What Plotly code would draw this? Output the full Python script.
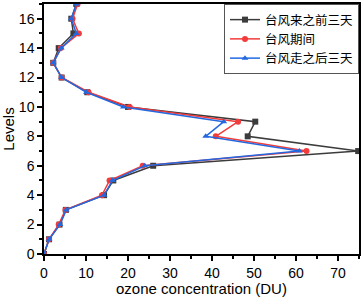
import plotly.graph_objects as go

levels = list(range(0, 18))
before = [0, 1.2, 3.7, 5.2, 14.3, 16.5, 26.0, 74.8, 48.5, 50.3, 20.0, 10.3, 4.2, 2.2, 3.5, 7.0, 6.5, 7.7]
during = [0, 1.2, 3.5, 5.1, 13.8, 15.6, 23.5, 62.5, 40.9, 46.2, 20.4, 10.6, 4.2, 2.2, 4.0, 8.3, 6.8, 8.0]
after = [0, 1.2, 3.8, 5.3, 14.3, 16.3, 24.0, 60.8, 38.5, 42.8, 18.9, 10.1, 4.2, 2.2, 4.1, 7.7, 6.5, 7.7]
names = ["台风来之前三天", "台风期间", "台风走之后三天"]
colors = ["#3c3c3c", "#f23b3b", "#2468e0"]
symbols = ["square", "circle", "triangle-up"]

fig = go.Figure()
for vals, nm, c, s in zip([before, during, after], names, colors, symbols):
    fig.add_trace(go.Scatter(x=vals, y=levels, mode="lines+markers", name=nm,
                             line=dict(color=c, width=1.5),
                             marker=dict(symbol=s, size=6, color=c), cliponaxis=True))

axis_common = dict(showline=True, linecolor="black", linewidth=1.5, mirror=True,
                   ticks="outside", ticklen=5, tickwidth=1.5, tickcolor="black",
                   showgrid=False, zeroline=False,
                   tickfont=dict(family="Liberation Sans, Arial", size=14, color="black"))
fig.update_xaxes(range=[0, 75], dtick=10, tick0=0,
                 minor=dict(ticks="outside", ticklen=3, dtick=5, tickwidth=1.5, tickcolor="black"),
                 title=dict(text="ozone concentration (DU)", standoff=4,
                            font=dict(family="Liberation Sans, Arial", size=15, color="black")),
                 **axis_common)
fig.update_yaxes(range=[0, 17], dtick=2, tick0=0,
                 minor=dict(ticks="outside", ticklen=3, dtick=1, tickwidth=1.5, tickcolor="black"),
                 title=dict(text="Levels", standoff=4,
                            font=dict(family="Liberation Sans, Arial", size=15, color="black")),
                 **axis_common)
fig.update_layout(width=363, height=297, margin=dict(l=44, r=2, t=2, b=41),
                  plot_bgcolor="white", paper_bgcolor="white",
                  legend=dict(x=1, y=1, xanchor="right", yanchor="top",
                              bgcolor="white", bordercolor="#555", borderwidth=1,
                              font=dict(family="Noto Sans CJK SC", size=12.5, color="black"),
                              tracegroupgap=0, itemwidth=30))
fig.write_html("out.html", config={"displayModeBar": False},
               post_script="document.body.style.margin='0';document.body.style.overflow='hidden';")
